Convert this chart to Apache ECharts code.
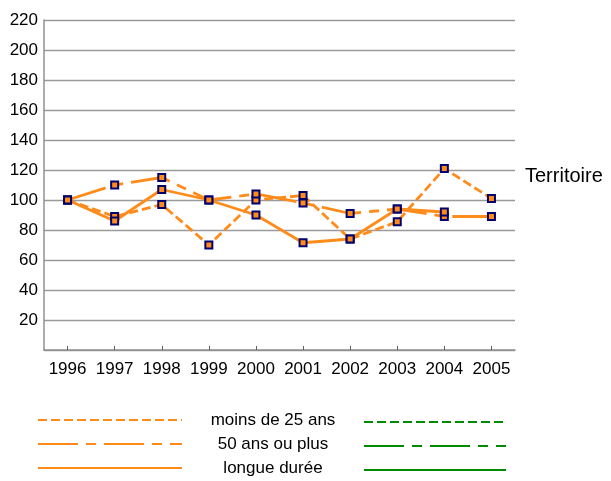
<!DOCTYPE html>
<html>
<head>
<meta charset="utf-8">
<script src="https://cdn.jsdelivr.net/npm/echarts@6/dist/echarts.min.js"></script>
<style>html,body{margin:0;padding:0;background:#fff;}#c{width:611px;height:481px;}</style>
</head>
<body>
<div id="c"></div>
<script>
const years = ['1996','1997','1998','1999','2000','2001','2002','2003','2004','2005'];
const moins25 = [100, 89, 97, 70, 100, 103, 74, 85.5, 121, 101];
const plus50 = [100, 110, 115, 100, 104, 98, 91, 94, 89, 89];
const longueDuree = [100, 86, 107, 100, 90, 71.5, 74, 94, 92, null];
const emptyVals = [null, null, null, null, null, null, null, null, null, null];
const seriesNames = ['moins de 25 ans', '50 ans ou plus', 'longue durée'];
const territoireNames = ['moins de 25 ans ', '50 ans ou plus ', 'longue durée '];
const yTicks = [20, 40, 60, 80, 100, 120, 140, 160, 180, 200, 220];

const ORANGE = '#ff8c1a';
const GREEN = '#008a00';
const FONT = 'Liberation Sans, Arial, sans-serif';
const dashes = [[9, 4], [40, 8, 10, 8], 'solid'];
const orangeData = [moins25, plus50, longueDuree];

const chart = echarts.init(document.getElementById('c'));
const series = [];
seriesNames.forEach((n, i) => {
  series.push({
    name: n, type: 'line', data: orangeData[i],
    symbol: 'rect', symbolSize: [7, 7],
    itemStyle: {color: ORANGE, borderColor: '#00006e', borderWidth: 2},
    lineStyle: {color: ORANGE, width: 2.8, type: dashes[i]},
    connectNulls: false, animation: false
  });
});
territoireNames.forEach((n, i) => {
  series.push({
    name: n, type: 'line', data: emptyVals,
    symbol: 'rect', symbolSize: [7, 7],
    itemStyle: {color: GREEN},
    lineStyle: {color: GREEN, width: 3, type: dashes[i]},
    animation: false
  });
});

chart.setOption({
  backgroundColor: '#fff',
  textStyle: {fontFamily: FONT},
  grid: {left: 44, right: 96, top: 20, bottom: 131},
  xAxis: {
    type: 'category', data: years, boundaryGap: true,
    axisLine: {lineStyle: {color: '#909090', width: 1.5}},
    axisTick: {show: true, inside: true, length: 4, alignWithLabel: true, lineStyle: {color: '#606060'}},
    axisLabel: {color: '#000', fontSize: 17, margin: 11, interval: 0, fontFamily: FONT}
  },
  yAxis: {
    type: 'value', min: 0, max: 220, interval: 20,
    axisLine: {show: true, lineStyle: {color: '#909090', width: 1.5}},
    axisTick: {show: false},
    splitLine: {lineStyle: {color: '#9a9a9a', width: 1.3}},
    axisLabel: {color: '#000', fontSize: 17, margin: 6, fontFamily: FONT,
      formatter: v => yTicks.indexOf(v) >= 0 ? String(v) : ''}
  },
  legend: [
    {
      data: seriesNames, orient: 'vertical', left: 37, top: 411, height: 90, padding: 0,
      itemWidth: 144, itemHeight: 20, itemGap: 6,
      itemStyle: {opacity: 0},
      formatter: n => '{a|' + n + '}',
      textStyle: {color: '#000', fontSize: 17, fontFamily: FONT,
        rich: {a: {width: 172, align: 'center', fontSize: 17, lineHeight: 20, color: '#000', fontFamily: FONT}}},
      selectedMode: false
    },
    {
      data: territoireNames, orient: 'vertical', left: 363, top: 412, height: 90, padding: 0,
      itemWidth: 142, itemHeight: 20, itemGap: 6,
      itemStyle: {opacity: 0},
      formatter: () => '',
      selectedMode: false
    }
  ],
  graphic: [
    {type: 'text', left: 525, top: 166, style: {text: 'Territoire', fontSize: 20, fill: '#000', fontFamily: FONT}}
  ],
  series: series
});
</script>
</body>
</html>
